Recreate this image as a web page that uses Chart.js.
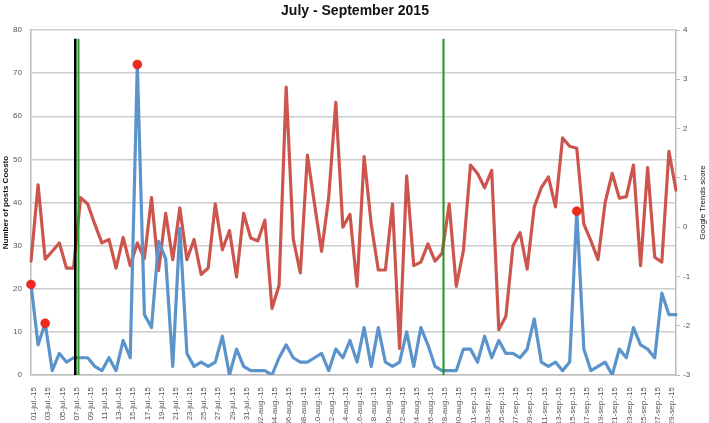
<!DOCTYPE html>
<html>
<head>
<meta charset="utf-8">
<script src="https://cdn.jsdelivr.net/npm/chart.js@4/dist/chart.umd.min.js"></script>
<style>
  html, body { margin: 0; padding: 0; background: #ffffff; }
  #wrap { width: 709px; height: 423px; }
</style>
</head>
<body>
<div id="wrap"><canvas id="c" width="709" height="423"></canvas></div>
<script>
const chartTitle = 'July - September 2015';
const leftAxisTitle = 'Number of posts Coosto';
const rightAxisTitle = 'Google Trends score';

const dayLabels = [
  '01-jul.-15','02-jul.-15','03-jul.-15','04-jul.-15','05-jul.-15','06-jul.-15','07-jul.-15','08-jul.-15','09-jul.-15','10-jul.-15',
  '11-jul.-15','12-jul.-15','13-jul.-15','14-jul.-15','15-jul.-15','16-jul.-15','17-jul.-15','18-jul.-15','19-jul.-15','20-jul.-15',
  '21-jul.-15','22-jul.-15','23-jul.-15','24-jul.-15','25-jul.-15','26-jul.-15','27-jul.-15','28-jul.-15','29-jul.-15','30-jul.-15',
  '31-jul.-15',
  '01-aug.-15','02-aug.-15','03-aug.-15','04-aug.-15','05-aug.-15','06-aug.-15','07-aug.-15','08-aug.-15','09-aug.-15','10-aug.-15',
  '11-aug.-15','12-aug.-15','13-aug.-15','14-aug.-15','15-aug.-15','16-aug.-15','17-aug.-15','18-aug.-15','19-aug.-15','20-aug.-15',
  '21-aug.-15','22-aug.-15','23-aug.-15','24-aug.-15','25-aug.-15','26-aug.-15','27-aug.-15','28-aug.-15','29-aug.-15','30-aug.-15',
  '31-aug.-15',
  '01-sep.-15','02-sep.-15','03-sep.-15','04-sep.-15','05-sep.-15','06-sep.-15','07-sep.-15','08-sep.-15','09-sep.-15','10-sep.-15',
  '11-sep.-15','12-sep.-15','13-sep.-15','14-sep.-15','15-sep.-15','16-sep.-15','17-sep.-15','18-sep.-15','19-sep.-15','20-sep.-15',
  '21-sep.-15','22-sep.-15','23-sep.-15','24-sep.-15','25-sep.-15','26-sep.-15','27-sep.-15','28-sep.-15','29-sep.-15','30-sep.-15'
];

// Number of posts (Coosto), left axis
const postsCoosto = [
  21, 7, 12, 1, 5, 3, 4, 4, 4, 2,
  1, 4, 1, 8, 4, 72, 14, 11, 31, 27,
  2, 34, 5, 2, 3, 2, 3, 9, 0, 6,
  2, 1, 1, 1, 0, 4, 7, 4, 3, 3,
  4, 5, 1, 6, 4, 8, 3, 11, 2, 11,
  3, 2, 3, 10, 2, 11, 7, 2, 1, 1,
  1, 6, 6, 3, 9, 4, 8, 5, 5, 4,
  6, 13, 3, 2, 3, 1, 3, 38, 6, 1,
  2, 3, 0, 6, 4, 11, 7, 6, 4, 19,
  14, 14
];

// Google Trends score, right axis
const googleTrends = [
  -0.69, 0.86, -0.65, -0.49, -0.32, -0.83, -0.83, 0.60, 0.47, 0.06,
  -0.32, -0.25, -0.83, -0.21, -0.78, -0.32, -0.64, 0.60, -0.88, 0.28,
  -0.66, 0.39, -0.66, -0.25, -0.96, -0.83, 0.47, -0.46, -0.07, -1.01,
  0.28, -0.22, -0.28, 0.14, -1.65, -1.18, 2.84, -0.24, -0.93, 1.46,
  0.47, -0.49, 0.60, 2.53, 0.00, 0.26, -1.20, 1.43, 0.06, -0.87,
  -0.87, 0.47, -2.46, 1.04, -0.78, -0.71, -0.34, -0.69, -0.53, 0.47,
  -1.20, -0.48, 1.26, 1.09, 0.80, 1.15, -2.08, -1.81, -0.38, -0.11,
  -0.85, 0.41, 0.80, 1.02, 0.41, 1.81, 1.64, 1.60, 0.06, -0.28,
  -0.66, 0.50, 1.09, 0.59, 0.62, 1.26, -0.78, 1.21, -0.61, -0.71,
  1.54, 0.75
];

// Days highlighted with a red dot on the posts series
const highlightedDays = [0, 2, 15, 77];

// Event markers (category position) drawn as vertical lines
const eventMarkers = [6.25, 6.7, 58.2];
const eventColors = ['#000000', '#22a022', '#1c961c'];

const FONT = "'Liberation Sans', Arial, sans-serif";

const overlayPlugin = {
  id: 'overlay',
  afterDatasetsDraw(chart) {
    const ctx = chart.ctx;
    const x = chart.scales.x, y = chart.scales.y;
    const top = y.getPixelForValue(78);
    const bottom = y.getPixelForValue(0);
    ctx.save();
    eventMarkers.forEach((m, i) => {
      const px = x.getPixelForValue(m);
      ctx.strokeStyle = eventColors[i];
      ctx.lineWidth = i === 0 ? 2.6 : 2;
      ctx.beginPath();
      ctx.moveTo(px, top);
      ctx.lineTo(px, bottom);
      ctx.stroke();
    });
    ctx.restore();
  },
  afterDraw(chart) {
    const ctx = chart.ctx;
    const area = chart.chartArea;
    const cy = (area.top + area.bottom) / 2;
    ctx.save();
    ctx.fillStyle = '#111111';
    ctx.textAlign = 'center';
    ctx.textBaseline = 'middle';
    ctx.font = 'bold 14px ' + FONT;
    ctx.fillText(chartTitle, 355, 11);

    ctx.font = 'bold 8px ' + FONT;
    ctx.translate(6, cy);
    ctx.rotate(-Math.PI / 2);
    ctx.fillText(leftAxisTitle, 0, 0);
    ctx.restore();

    ctx.save();
    ctx.fillStyle = '#111111';
    ctx.textAlign = 'center';
    ctx.textBaseline = 'middle';
    ctx.font = '8px ' + FONT;
    ctx.translate(703, cy);
    ctx.rotate(-Math.PI / 2);
    ctx.fillText(rightAxisTitle, 0, 0);
    ctx.restore();
  }
};

new Chart(document.getElementById('c'), {
  type: 'line',
  data: {
    labels: dayLabels,
    datasets: [
      {
        label: 'Posts Coosto',
        data: postsCoosto,
        yAxisID: 'y',
        borderColor: '#5b93cb',
        borderWidth: 3.2,
        borderJoinStyle: 'round',
        borderCapStyle: 'round',
        tension: 0,
        order: 0,
        pointRadius: (c) => highlightedDays.includes(c.dataIndex) ? 4.5 : 0,
        pointHoverRadius: 0,
        pointBackgroundColor: '#ee2a1c',
        pointBorderColor: '#d81e12',
        pointBorderWidth: 0.5
      },
      {
        label: 'Google Trends',
        data: googleTrends,
        yAxisID: 'y1',
        borderColor: '#cc564e',
        borderWidth: 3.2,
        borderJoinStyle: 'round',
        borderCapStyle: 'round',
        tension: 0,
        order: 1,
        pointRadius: 0,
        pointHoverRadius: 0
      }
    ]
  },
  options: {
    responsive: false,
    animation: false,
    devicePixelRatio: 1,
    layout: { padding: { top: 30, left: 0, right: 0, bottom: 0 } },
    plugins: {
      legend: { display: false },
      title: { display: false },
      tooltip: { enabled: false }
    },
    scales: {
      x: {
        type: 'category',
        offset: false,
        grid: { display: false },
        border: { display: true, color: '#bdbdbd', width: 1.5 },
        ticks: {
          autoSkip: false,
          minRotation: 90,
          maxRotation: 90,
          padding: 4,
          labelOffset: 3,
          color: '#555555',
          font: { family: FONT, size: 8 },
          callback: function (val, idx) { return idx % 2 === 0 ? dayLabels[idx] : ''; }
        },
        afterFit(scale) { scale.height = 48; }
      },
      y: {
        position: 'left',
        min: 0,
        max: 80,
        grid: { color: '#cdcdcd', lineWidth: 1.4, drawTicks: false },
        border: { display: true, color: '#bdbdbd', width: 1.5 },
        ticks: {
          stepSize: 10,
          padding: 9,
          color: '#555555',
          font: { family: FONT, size: 8 }
        },
        afterFit(scale) { scale.width = 31; }
      },
      y1: {
        position: 'right',
        min: -3,
        max: 4,
        grid: { drawOnChartArea: false, drawTicks: true, tickLength: 4, color: '#bdbdbd', lineWidth: 1 },
        border: { display: true, color: '#bdbdbd', width: 1.5 },
        ticks: {
          stepSize: 1,
          padding: 3,
          color: '#555555',
          font: { family: FONT, size: 8 }
        },
        afterFit(scale) { scale.width = 33; }
      }
    }
  },
  plugins: [overlayPlugin]
});
</script>
</body>
</html>
